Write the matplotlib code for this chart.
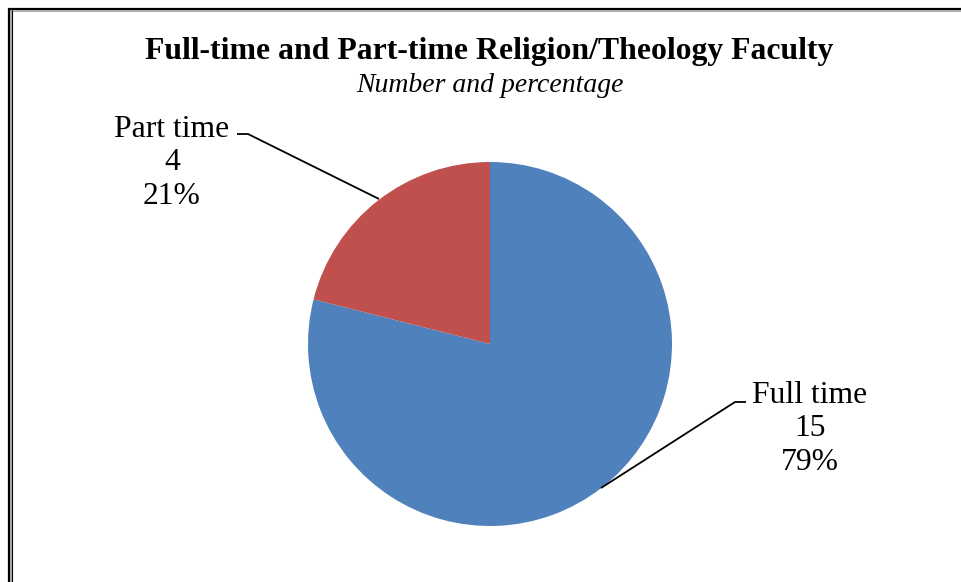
import matplotlib
matplotlib.use("Agg")
import matplotlib.pyplot as plt
from matplotlib.lines import Line2D

categories = ["Full time", "Part time"]
counts = [15, 4]
colors = ["#4F81BD", "#C0504D"]

W, H = 961, 582
fig = plt.figure(figsize=(W / 100, H / 100), dpi=100)
ax = fig.add_axes([0, 0, 1, 1])

serif = ["Liberation Serif", "DejaVu Serif"]

# Pie: first slice starts at 12 o'clock and runs clockwise
center = (490, 344)
radius = 182
wedges, _ = ax.pie(counts, colors=colors, startangle=90, counterclock=False,
                   center=center, radius=radius, frame=True,
                   wedgeprops=dict(linewidth=0))
# y axis is inverted below, so mirror wedges to keep clockwise order on screen
for w in wedges:
    t1, t2 = w.theta1, w.theta2
    w.set_theta1(-t2)
    w.set_theta2(-t1)
ax.set_xlim(0, W)
ax.set_ylim(H, 0)
ax.set_aspect("equal")
ax.axis("off")

total = sum(counts)

# Title
ax.text(489, 52, "Full-time and Part-time Religion/Theology Faculty",
        ha="center", va="center", fontsize=22.9, fontweight="bold", family=serif)
ax.text(490, 86, "Number and percentage", ha="center", va="center",
        fontsize=20, fontstyle="italic", family=serif)

# Data labels with leader lines
label_pos = {"Part time": (172, 163), "Full time": (810, 429)}
leaders = {"Part time": [(237, 134), (248, 134), (379, 199)],
           "Full time": [(746, 402), (735, 402), (601, 488)]}
for cat, n in zip(categories, counts):
    x, y = label_pos[cat]
    pct = round(100 * n / total)
    ax.text(x, y, f"{cat}\n{n}\n{pct}%", ha="center", va="center",
            fontsize=22.8, family=serif, linespacing=1.22)
    xs, ys = zip(*leaders[cat])
    ax.plot(xs, ys, color="black", linewidth=1.3, solid_capstyle="butt")

# Chart-area frame: double rule on the top and left edges
def frame_line(xs, ys, color, lw):
    ax.add_line(Line2D(xs, ys, color=color, linewidth=lw, solid_capstyle="butt"))

frame_line([8, W], [9, 9], "black", 1.6)
frame_line([10, W], [10.5, 10.5], "#a0a0a0", 1.2)
frame_line([9, 9], [8, H], "black", 1.6)
frame_line([10.5, 10.5], [10, H], "#a0a0a0", 1.2)
frame_line([11.5, 11.5], [10, H], "black", 0.8)

fig.savefig("out.png", dpi=100, facecolor="white")
